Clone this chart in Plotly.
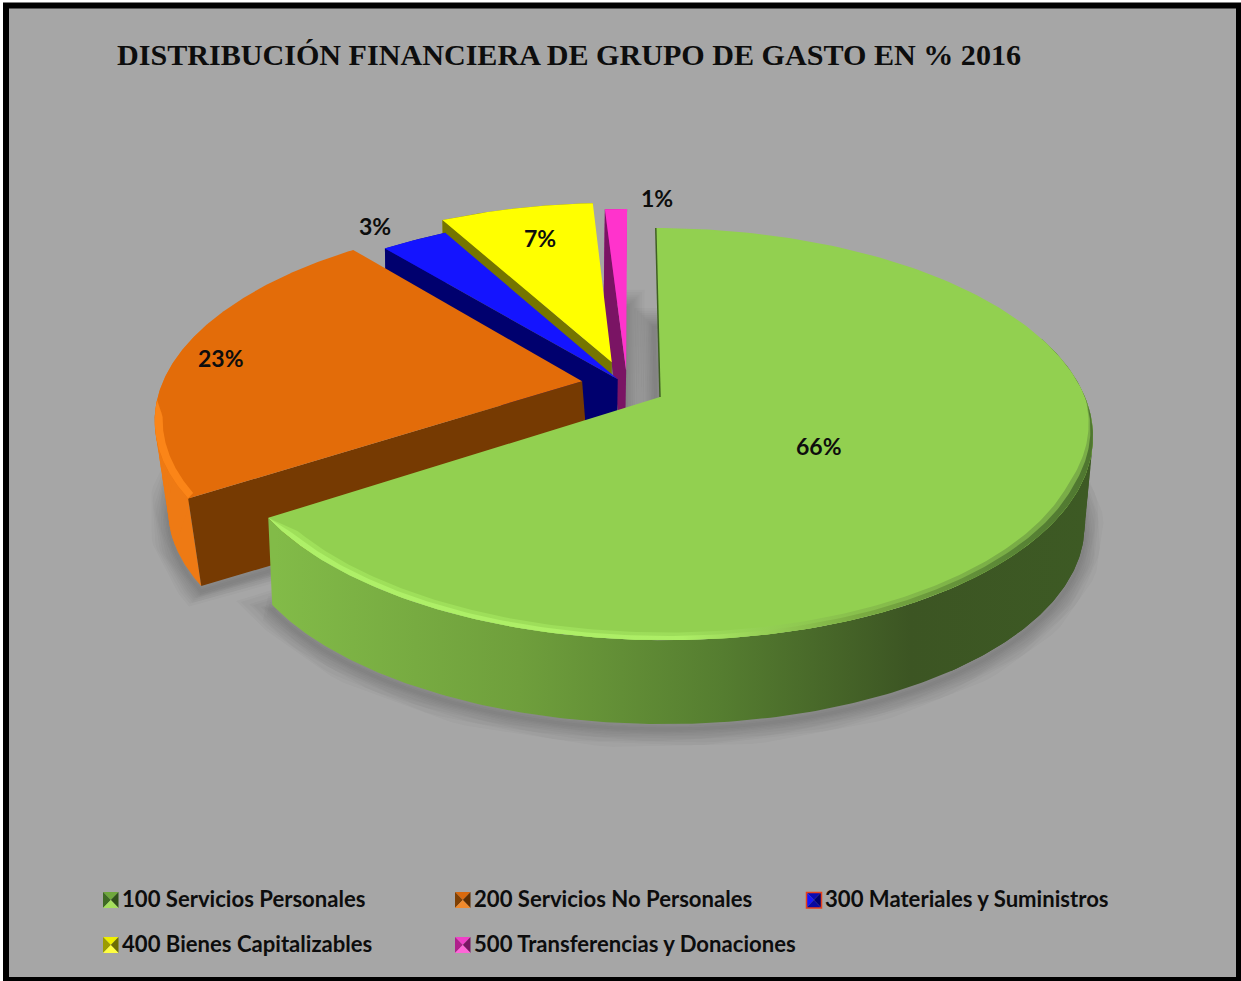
import numpy as np
import plotly.graph_objects as go

# ---- data ----
title = "DISTRIBUCIÓN FINANCIERA DE GRUPO DE GASTO EN % 2016"
categories = ["100 Servicios Personales", "200 Servicios No Personales", "300 Materiales y Suministros",
              "400 Bienes Capitalizables", "500 Transferencias y Donaciones"]
values = [65.8, 23.2, 3.0, 7.0, 1.0]

# ---- styles / placement ----
top_colors = ["#92d050", "#e36c09", "#1414ff", "#ffff00", "#ff33cc"]
face_colors = ["#3f5f22", "#763a02", "#00006e", "#757500", "#7a1464"]
rim_colors = ["#7db043", "#ee7a14", "#10108c", "#8f8f00", "#a01c84"]
explode = [(0.0, 0.0), (-0.185, 0.08), (-0.10, 0.09), (-0.115, 0.18), (-0.08, 0.135)]
slice_shift = [0.0, 8.0, 0.0, 0.0, 0.0]
label_xy = [(819, 446), (221, 358), (375, 226), (540, 238), (657, 198)]
legend_xy = [(103, 900), (455, 900), (806, 900), (103, 945), (455, 945)]
CX, CY, R, S, C, SHEAR, DEPTH = 660.0, 397.0, 425.0, 199.4, 0.18, 0.025, 90.0
GREEN_RIM = [[0, "#82bb48"], [0.3, "#6f9f3c"], [0.55, "#557d30"], [0.78, "#3c5523"], [1, "#3d5a24"]]


def project(theta, r, d, z=0.0, shift=0.0):
    X = r * np.sin(theta) + d[0]
    Y = r * np.cos(theta) + d[1]
    den = 1 + C * Y
    sx, sy = R * X / den, S * Y / den
    x = CX + (1 - 0.015 * z) * sx - 2 * z + SHEAR * (-sy) + shift * z
    y = CY - (1 - 0.025 * z) * sy + DEPTH * z
    return x, y


fig = go.Figure()


def poly(x, y, color):
    fig.add_trace(go.Scatter(x=list(x), y=list(y), mode="lines", fill="toself", fillcolor=color,
                             line=dict(width=0, color=color), hoverinfo="skip", showlegend=False))


def gradient(x, y, stops, x0, x1):
    fig.add_trace(go.Scatter(x=list(x), y=list(y), mode="lines", fill="toself",
                             fillgradient=dict(type="horizontal", colorscale=stops, start=x0, stop=x1),
                             line=dict(width=0), hoverinfo="skip", showlegend=False))


def band(t, d, width, paint):
    """Bevel band along the outer arc, tapering at both ends."""
    u = np.linspace(0, 1, len(t))
    taper = np.clip(np.minimum(u * 30, (1 - u) * 6), 0, 1)
    ox, oy = project(t, 1.0, d, 0)
    ix, iy = project(t, 1.0 - width * taper, d, 0)
    paint(np.r_[ox, ix[::-1]], np.r_[oy, iy[::-1]])


total = sum(values)
edges = np.cumsum([0] + values) / total * 2 * np.pi
slices = [(edges[i], edges[i + 1], explode[i]) for i in range(len(values))]

# soft shadows below every slice
for i, (a, b, d) in enumerate(slices):
    t = np.linspace(a, b, 140)
    ax, ay = project(0.0, 0.0, d, 1, slice_shift[i])
    x, y = project(t, 1.0, d, 1, slice_shift[i])
    px = np.r_[ax, x, ax]
    py = np.r_[ay, y, ay]
    for w in [38, 33, 28, 24, 20, 16, 12, 9, 6, 3]:
        fig.add_trace(go.Scatter(x=px, y=py + 5, mode="lines", line=dict(width=w, color="rgba(50,50,50,0.026)"),
                                 hoverinfo="skip", showlegend=False))

# solid slices, back to front
for i in [4, 3, 2, 1, 0]:
    a, b, d = slices[i]
    sh = slice_shift[i]
    t = np.linspace(a, b, 200)
    ax0, ay0 = project(0.0, 0.0, d, 0)
    ax1, ay1 = project(0.0, 0.0, d, 1, sh)
    sx0, sy0 = project(a, 1.0, d, 0)
    sx1, sy1 = project(a, 1.0, d, 1, sh)
    # rim: a strip between the arcs, plus swept arcs that close the fold at the outline tangent
    if i == 0:
        tr = np.linspace(np.pi * 0.4, b, 240)
        x0, y0 = project(tr, 1.0, d, 0)
        x1, y1 = project(tr, 1.0, d, 1, sh)
        gradient(np.r_[x0, x1[::-1]], np.r_[y0, y1[::-1]], GREEN_RIM, 275, 1090)
        ts = np.linspace(np.pi * 0.4, np.pi * 0.8, 120)
        for z in np.linspace(0.1, 1, 10):
            px, py = project(ts, 1.0, d, z, sh)
            gradient(px, py, GREEN_RIM, 275, 1090)
    elif i == 1:
        tr = np.linspace(a, np.pi * 1.6, 120)
        x0, y0 = project(tr, 1.0, d, 0)
        x1, y1 = project(tr, 1.0, d, 1, sh)
        poly(np.r_[x0, x1[::-1]], np.r_[y0, y1[::-1]], rim_colors[i])
        ts = np.linspace(np.pi * 1.38, np.pi * 1.6, 80)
        for z in np.linspace(0.1, 1, 10):
            px, py = project(ts, 1.0, d, z, sh)
            poly(px, py, rim_colors[i])
    else:
        x0, y0 = project(t, 1.0, d, 0)
        x1, y1 = project(t, 1.0, d, 1, sh)
        poly(np.r_[x0, x1[::-1]], np.r_[y0, y1[::-1]], rim_colors[i])
    # cut face on the starting edge
    if i != 0:
        poly([ax0, sx0, sx1, ax1], [ay0, sy0, sy1, ay1], face_colors[i])
    # top surface
    tx, ty = project(t, 1.0, d, 0)
    poly(np.r_[ax0, tx], np.r_[ay0, ty], top_colors[i])
    # bevel highlight on the visible rim
    if i == 0:
        tb = np.linspace(b, np.pi * 0.5, 240)
        band(tb, d, 0.026, lambda x, y: gradient(x, y, [[0, "#9fe05a"], [0.5, "#9ddd5a"], [0.72, "#88bf4c"], [0.9, "#79ad46"], [1, "#7aad48"]], 275, 1090))
        band(tb, d, 0.014, lambda x, y: gradient(x, y, [[0, "#aef068"], [0.5, "#adee66"], [0.72, "#7aab42"], [0.9, "#5a8636"], [1, "#4f7630"]], 275, 1090))
        fig.add_trace(go.Scatter(x=[sx0, ax0], y=[sy0, ay0], mode="lines", line=dict(width=1.5, color="#3f5f22"),
                                 hoverinfo="skip", showlegend=False))
    elif i == 1:
        tb = np.linspace(a, np.pi * 1.47, 120)
        band(tb, d, 0.018, lambda x, y: poly(x, y, "#fb8518"))

# legend glyphs (bevelled squares)
bevel = [
    ("#6fa83c", "#3f6b24", "#2f5019", "#a5e05e"),
    ("#d9690c", "#7f4004", "#5c2e02", "#f08a2c"),
    ("#0a0ab4", "#1414ff", "#00006e", "#0808a0"),
    ("#f0f000", "#9c9c00", "#6e6e00", "#ffff40"),
    ("#f040c8", "#b0208c", "#7a1464", "#ff66d8"),
]
shapes = [
    dict(type="rect", xref="x", yref="y", x0=6, y0=5.5, x1=1239, y1=980, fillcolor="#a6a6a6",
         line=dict(color="#000000", width=6), layer="below")
]
for (lx, ly), (tc, lc, rc, bc) in zip(legend_xy, bevel):
    x0, x1, y0, y1 = lx, lx + 15.5, ly - 8, ly + 8
    mx, my = (x0 + x1) / 2, ly
    for pts, col in [([(x0, y0), (x1, y0), (mx, my)], tc), ([(x0, y0), (x0, y1), (mx, my)], lc),
                     ([(x1, y0), (x1, y1), (mx, my)], rc), ([(x0, y1), (x1, y1), (mx, my)], bc)]:
        path = "M " + " L ".join(f"{p},{q}" for p, q in pts) + " Z"
        shapes.append(dict(type="path", xref="x", yref="y", path=path, fillcolor=col, line=dict(width=0), layer="above"))
shapes.append(dict(type="rect", xref="x", yref="y", x0=806.5, y0=892.5, x1=821.5, y1=908,
                   fillcolor="rgba(0,0,0,0)", line=dict(color="#e8401a", width=1.5), layer="above"))

annotations = [dict(x=114.5, y=54.6, xref="x", yref="y", xanchor="left", yanchor="middle", showarrow=False, text=f"<b>{title}</b>",
                    font=dict(family="Liberation Serif", size=30.1, color="#0d0d0d"))]
for v, (x, y) in zip(values, label_xy):
    annotations.append(dict(x=x, y=y, xref="x", yref="y", showarrow=False, text=f"<b>{round(v)}%</b>",
                            font=dict(family="Lato", size=23, color="#0d0d0d")))
for name, (x, y) in zip(categories, legend_xy):
    annotations.append(dict(x=x + 17, y=y - 1.5, xref="x", yref="y", xanchor="left", showarrow=False, text=f"<b>{name}</b>",
                            font=dict(family="Lato", size=22.1, color="#0d0d0d")))

fig.update_layout(
    width=1241, height=981, margin=dict(l=0, r=0, t=0, b=0), paper_bgcolor="#ffffff", plot_bgcolor="rgba(0,0,0,0)",
    xaxis=dict(range=[0, 1241], visible=False, fixedrange=True),
    yaxis=dict(range=[981, 0], visible=False, fixedrange=True),
    shapes=shapes, annotations=annotations, showlegend=False,
)
fig.write_html("out.html", config=dict(displayModeBar=False),
               post_script="document.body.style.margin='0';document.body.style.overflow='hidden';")
